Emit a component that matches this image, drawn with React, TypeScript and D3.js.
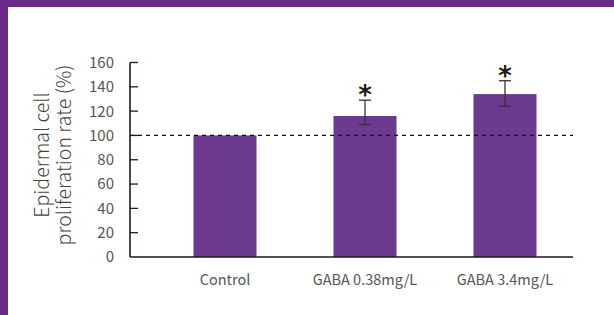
import * as d3 from "d3";

const categories = ["Control", "GABA 0.38mg/L", "GABA 3.4mg/L"];
const values = [100, 116, 134];
const errHigh = [null, 129, 145];
const errLow = [null, 109, 124];
const significant = [false, true, true];
const yTicks = [0, 20, 40, 60, 80, 100, 120, 140, 160];
const refLine = 100;

const W = 614;
const H = 315;
const font = "'Noto Sans CJK JP', 'Noto Sans', sans-serif";
const purple = "#6b398e";
const axisColor = "#231815";

export default function App() {
  const x = d3.scaleBand().domain(categories).range([155, 575]).paddingInner(0.55).paddingOuter(0.275);
  const y = d3.scaleLinear().domain([0, 160]).range([257, 62.5]);
  const x0 = 130;
  const x1 = 573;

  return (
    <svg width={W} height={H} style={{ position: "absolute", left: 0, top: 0 }}>
      <rect x={0} y={0} width={W} height={H} fill="#fff" />
      {/* frame */}
      <rect x={0} y={0} width={W} height={7} fill="#6a2a88" />
      <rect x={0} y={0} width={8} height={H} fill="#6a2a88" />

      {/* bars */}
      {categories.map((c, i) => (
        <rect key={c} x={x(c)} y={y(values[i])} width={x.bandwidth()} height={y(0) - y(values[i])} fill={purple} />
      ))}

      {/* reference line */}
      <line x1={x0} x2={x1} y1={y(refLine)} y2={y(refLine)} stroke="#111" strokeWidth={1.2} strokeDasharray="4,4" />

      {/* error bars */}
      {categories.map((c, i) => {
        if (errHigh[i] == null) return null;
        const cx = (x(c) as number) + x.bandwidth() / 2;
        const hi = y(errHigh[i] as number);
        const lo = y(errLow[i] as number);
        return (
          <g key={c} stroke="#3a3035" strokeWidth={1.3}>
            <line x1={cx} x2={cx} y1={hi} y2={lo} />
            <line x1={cx - 6} x2={cx + 6} y1={hi} y2={hi} />
            <line x1={cx - 6} x2={cx + 6} y1={lo} y2={lo} />
          </g>
        );
      })}

      {/* significance marks */}
      {categories.map((c, i) =>
        significant[i] ? (
          <text key={c} x={(x(c) as number) + x.bandwidth() / 2} y={y(errHigh[i] as number) + 4}
            textAnchor="middle" fontFamily="'DejaVu Sans', sans-serif" fontWeight="bold" fontSize={26} fill="#231815">*</text>
        ) : null
      )}

      {/* y axis */}
      <line x1={x0} x2={x0} y1={y(160)} y2={y(0)} stroke={axisColor} strokeWidth={1.6} />
      {yTicks.map((t) => (
        <g key={t}>
          {t > 0 && <line x1={x0} x2={x0 + 8} y1={y(t)} y2={y(t)} stroke={axisColor} strokeWidth={1.3} />}
          <text x={114} y={y(t)} dy="0.36em" textAnchor="end" fontFamily={font} fontSize={15} fill="#555">{t}</text>
        </g>
      ))}

      {/* x axis */}
      <line x1={x0} x2={x1} y1={y(0)} y2={y(0)} stroke={axisColor} strokeWidth={1.6} />
      {categories.map((c) => (
        <text key={c} x={(x(c) as number) + x.bandwidth() / 2} y={285} textAnchor="middle"
          fontFamily={font} fontSize={14.5} fill="#555">{c}</text>
      ))}

      {/* y title */}
      <g transform="translate(49,155) rotate(-90)" fontFamily={font} fontSize={19.5} fill="#444" fontWeight={300}>
        <text x={0} y={0} textAnchor="middle">Epidermal cell</text>
        <text x={0} y={22} textAnchor="middle">proliferation rate (%)</text>
      </g>
    </svg>
  );
}
